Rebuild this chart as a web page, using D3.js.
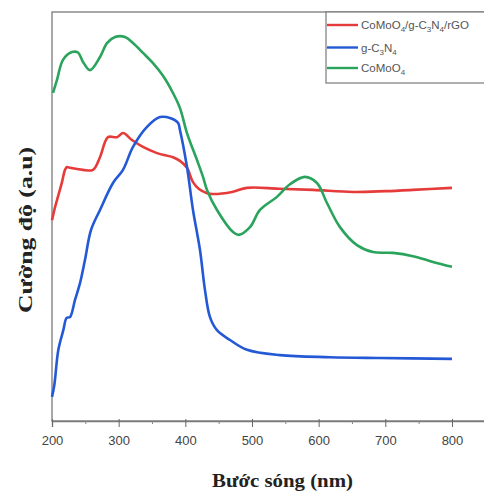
<!DOCTYPE html>
<html>
<head>
<meta charset="utf-8">
<script src="https://cdn.jsdelivr.net/npm/d3@7"></script>
<style>
  body { margin: 0; background: #fff; }
  svg { display: block; }
</style>
</head>
<body>
<svg></svg>
<script>
const width = 484;
const height = 494;

// wavelength (nm) and intensity (a.u., 0-100)
const redWave = [200, 203.5, 207.5, 215, 219.5, 222.5, 227, 246.5, 261.5, 272, 284, 297.5, 306.5, 320, 336.5, 357.5, 381.5, 392, 402.5, 411.5, 420.5, 432.5, 441.5, 470, 492.5, 540, 591.5, 651.5, 700, 741.5, 800];
const redVals = [49.1, 51.6, 54.0, 58.4, 61.4, 62.1, 61.9, 61.4, 61.4, 64.5, 69.4, 69.4, 70.4, 68.7, 67.0, 65.5, 64.5, 63.6, 61.9, 58.4, 56.7, 55.7, 55.5, 56.0, 57.0, 56.8, 56.5, 56.0, 56.2, 56.5, 57.0];

const blueWave = [200, 203.5, 209.5, 217, 222, 227, 234.5, 242, 249.5, 258.5, 272, 291.5, 306.5, 321.5, 342.5, 362, 377, 389, 392, 402.5, 411.5, 422, 429.5, 437, 447.5, 467, 492.5, 542, 617, 692, 800];
const blueVals = [5.9, 8.8, 17.4, 22.2, 25.2, 25.4, 29.6, 33.7, 39.4, 46.7, 51.6, 58.2, 61.4, 67.0, 71.9, 74.3, 74.1, 72.9, 71.1, 62.1, 51.6, 41.8, 32.0, 25.4, 22.2, 19.8, 17.4, 16.1, 15.6, 15.4, 15.2];

const greenWave = [201.5, 207.5, 216.5, 230, 239, 246.5, 257, 272, 282.5, 294.5, 309.5, 321.5, 336.5, 351.5, 366.5, 381.5, 392, 402.5, 417.5, 426.5, 432.5, 447.5, 471.5, 480, 497, 512, 537.5, 557, 579.5, 597.5, 612.5, 632, 657.5, 681.5, 711.5, 741.5, 771.5, 800];
const greenVals = [80.2, 83.4, 88.3, 90.2, 90.1, 87.8, 85.8, 89.0, 92.4, 93.9, 93.9, 92.4, 90.0, 87.5, 84.4, 80.2, 76.5, 70.4, 63.8, 59.7, 56.5, 51.6, 46.2, 45.5, 47.4, 51.6, 54.8, 57.9, 59.7, 58.2, 53.3, 47.4, 43.0, 41.3, 41.1, 40.3, 38.9, 37.7];

const xTicks = [200, 300, 400, 500, 600, 700, 800];
const xMinorTicks = [250, 350, 450, 550, 650, 750];

const series = [
  { name: "CoMoO4/g-C3N4/rGO", wave: redWave, vals: redVals, color: "#e63b3b" },
  { name: "g-C3N4", wave: blueWave, vals: blueVals, color: "#2459d6" },
  { name: "CoMoO4", wave: greenWave, vals: greenVals, color: "#2aa35c" }
];

const svg = d3.select("svg")
  .attr("width", width)
  .attr("height", height);

const plotLeft = 52, plotTop = 12, plotRight = 485.3, plotBottom = 421;

const x = d3.scaleLinear().domain([200, 850]).range([plotLeft, plotRight]);
const y = d3.scaleLinear().domain([0, 100]).range([plotBottom, plotTop]);

// frame
svg.append("rect")
  .attr("x", plotLeft)
  .attr("y", plotTop)
  .attr("width", plotRight - plotLeft)
  .attr("height", plotBottom - plotTop)
  .attr("fill", "none")
  .attr("stroke", "#7a7a7a")
  .attr("stroke-width", 1.3);

// x axis
const xAxis = svg.append("g")
  .attr("transform", `translate(0,${plotBottom})`)
  .call(d3.axisBottom(x).tickValues(xTicks).tickSize(6).tickPadding(9).tickFormat(d3.format("d")));
xAxis.select(".domain").attr("stroke", "#7a7a7a").attr("stroke-width", 1.3);
xAxis.selectAll(".tick line").attr("stroke", "#666").attr("y1", -2);
xAxis.selectAll(".tick text")
  .attr("font-family", "Liberation Sans, Arial, sans-serif")
  .attr("font-size", 13)
  .attr("fill", "#444");

svg.append("g")
  .attr("transform", `translate(0,${plotBottom})`)
  .call(d3.axisBottom(x).tickValues(xMinorTicks).tickSize(3).tickFormat(""))
  .call(g => g.select(".domain").remove())
  .selectAll(".tick line").attr("stroke", "#888");

// curves
const line = d3.line()
  .x(d => x(d[0]))
  .y(d => y(d[1]))
  .curve(d3.curveCatmullRom.alpha(0.5));

series.forEach(s => {
  svg.append("path")
    .datum(s.wave.map((w, i) => [w, s.vals[i]]))
    .attr("fill", "none")
    .attr("stroke", s.color)
    .attr("stroke-width", 2.6)
    .attr("stroke-linejoin", "round")
    .attr("d", line);
});

// axis titles
svg.append("text")
  .attr("x", 212)
  .attr("y", 487)
  .attr("textLength", 141)
  .attr("lengthAdjust", "spacingAndGlyphs")
  .attr("font-family", "Liberation Serif, Times New Roman, serif")
  .attr("font-weight", "bold")
  .attr("font-size", 19)
  .attr("fill", "#222")
  .text("Bước sóng (nm)");

svg.append("text")
  .attr("transform", "translate(32,313) rotate(-90)")
  .attr("textLength", 166)
  .attr("lengthAdjust", "spacingAndGlyphs")
  .attr("font-family", "Liberation Serif, Times New Roman, serif")
  .attr("font-weight", "bold")
  .attr("font-size", 19)
  .attr("fill", "#222")
  .text("Cường độ (a.u)");

// legend
const legend = svg.append("g").attr("transform", "translate(326,12)");
legend.append("rect")
  .attr("x", 0)
  .attr("y", 0)
  .attr("width", 170)
  .attr("height", 71)
  .attr("fill", "#fff")
  .attr("stroke", "#7a7a7a")
  .attr("stroke-width", 1.2);

const legendY = [13, 35.5, 56];
const subParts = {
  "CoMoO4/g-C3N4/rGO": [["CoMoO", false], ["4", true], ["/g-C", false], ["3", true], ["N", false], ["4", true], ["/rGO", false]],
  "g-C3N4": [["g-C", false], ["3", true], ["N", false], ["4", true]],
  "CoMoO4": [["CoMoO", false], ["4", true]]
};

series.forEach((s, i) => {
  legend.append("line")
    .attr("x1", 1)
    .attr("x2", 32)
    .attr("y1", legendY[i])
    .attr("y2", legendY[i])
    .attr("stroke", s.color)
    .attr("stroke-width", 2.4);
  const t = legend.append("text")
    .attr("x", 35)
    .attr("y", legendY[i] + 4)
    .attr("font-family", "Liberation Sans, Arial, sans-serif")
    .attr("font-size", 11.5)
    .attr("fill", "#555");
  subParts[s.name].forEach(([txt, sub], k) => {
    const ts = t.append("tspan").text(txt);
    if (sub) ts.attr("font-size", 8).attr("dy", 3);
    else if (k > 0) ts.attr("dy", -3);
  });
});
</script>
</body>
</html>
